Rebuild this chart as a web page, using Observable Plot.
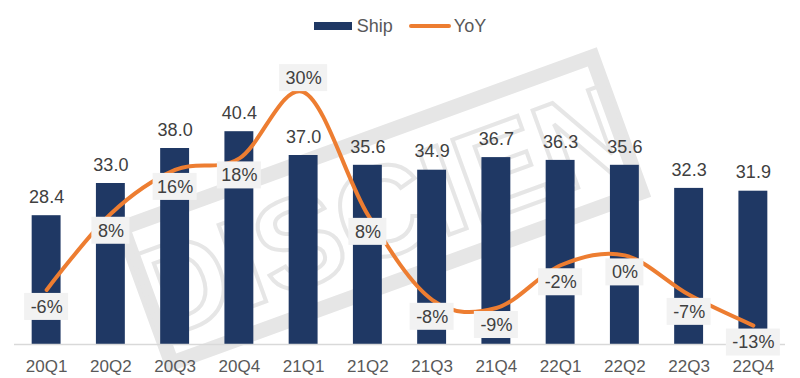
<!DOCTYPE html>
<html>
<head>
<meta charset="utf-8">
<script src="https://cdn.jsdelivr.net/npm/d3@7"></script>
<script src="https://cdn.jsdelivr.net/npm/@observablehq/plot@0.6"></script>
<style>
  html, body { margin: 0; padding: 0; background: #fff; }
  body { width: 800px; height: 378px; overflow: hidden; font-family: "Liberation Sans", Arial, sans-serif; }
  #legend { height: 44px; display: flex; justify-content: center; align-items: center; padding-top: 8px; box-sizing: border-box; font-size: 18px; color: #595959; }
  .item { display: flex; align-items: center; margin: 0 8px; }
  .sw-bar { width: 38px; height: 8px; background: #1F3864; margin-right: 5px; }
  .sw-line { width: 42px; height: 4px; border-radius: 2px; background: #ED7D31; margin-right: 3px; }
</style>
</head>
<body>
<div id="legend">
  <div class="item"><div class="sw-bar"></div><span>Ship</span></div>
  <div class="item"><div class="sw-line"></div><span>YoY</span></div>
</div>
<div id="chart"></div>
<script>
const quarters = ["20Q1","20Q2","20Q3","20Q4","21Q1","21Q2","21Q3","21Q4","22Q1","22Q2","22Q3","22Q4"];
const ship = [28.4, 33.0, 38.0, 40.4, 37.0, 35.6, 34.9, 36.7, 36.3, 35.6, 32.3, 31.9];
const yoy = [-6.1, 7.8, 15.8, 17.9, 30.0, 7.6, -7.9, -9.4, -1.6, 0.2, -7.0, -12.6];
const yoyLabelPos = ["below","below","below","below","above","below","below","below","below","below","below","below"];
const watermark = "DISCIEN";

const navy = "#1F3864";
const orange = "#ED7D31";

// secondary (YoY) axis mapped onto the primary Ship axis
const yoyToShip = d3.scaleLinear().domain([0, 30]).range([22.571, 46.057]);

const data = quarters.map((q, i) => ({
  q, ship: ship[i], yoy: yoy[i], ym: yoyToShip(yoy[i]),
  label: Math.round(yoy[i]) + "%", pos: yoyLabelPos[i]
}));

const boxH = 27 / 7; // box height in primary units (7px per unit)
const charW = {"-": 0.333, "%": 0.889};
const textW = s => [...s].reduce((a, c) => a + (charW[c] ?? 0.556), 0) * 18;

const boxMarks = [];
for (const pos of ["below", "above"]) {
  for (const len of [2, 3, 4]) {
    const subset = data.filter(d => d.pos === pos && d.label.length === len);
    if (!subset.length) continue;
    const w = textW(subset[0].label) + 12;
    const inset = -(w - 28.9) / 2;
    boxMarks.push(Plot.barY(subset, {
      x: "q", y1: d => d.ym - boxH / 2, y2: d => d.ym + boxH / 2,
      fill: "#F2F2F2", insetLeft: inset, insetRight: inset,
      dy: pos === "below" ? 17 : -14
    }));
  }
}

const chart = Plot.plot({
  width: 800,
  height: 334,
  marginTop: 20,
  marginBottom: 34,
  marginLeft: 14,
  marginRight: 15,
  style: { fontFamily: "Liberation Sans, Arial, sans-serif", background: "transparent", overflow: "visible" },
  x: { domain: quarters, paddingInner: 0.55, paddingOuter: 0.275, round: false, label: null },
  y: { domain: [10, 50], axis: null },
  marks: [
    Plot.barY(data, { x: "q", y1: 10, y2: "ship", fill: navy }),
    Plot.ruleY([10], { stroke: "#D9D9D9", strokeWidth: 1.5 }),
    Plot.text(data, { x: "q", y: "ship", text: d => d.ship.toFixed(1), dy: -18.5, fontSize: 18, fill: "#404040" }),
    Plot.line(data, { x: "q", y: "ym", stroke: orange, strokeWidth: 4, curve: "cardinal" }),
    ...boxMarks,
    Plot.text(data.filter(d => d.pos === "below"), { x: "q", y: "ym", text: "label", dy: 17, fontSize: 18, fill: "#404040" }),
    Plot.text(data.filter(d => d.pos === "above"), { x: "q", y: "ym", text: "label", dy: -14, fontSize: 18, fill: "#404040" }),
    Plot.axisX({ tickSize: 0, tickPadding: 15, fontSize: 17, color: "#595959", label: null })
  ]
});

// background watermark (decoration, not data)
const svg = d3.select(chart);
const wm = svg.insert("g", ":first-child")
  .attr("transform", "translate(382,166) rotate(-20)")
  .attr("pointer-events", "none");
wm.append("rect")
  .attr("x", -250).attr("y", -72).attr("width", 500).attr("height", 144)
  .attr("fill", "none").attr("stroke", "#E6E6E6").attr("stroke-width", 15);
wm.append("text")
  .attr("text-anchor", "middle").attr("y", 46)
  .attr("font-family", "Liberation Sans Narrow, Liberation Sans, Arial, sans-serif")
  .attr("font-size", 128).attr("font-weight", "bold")
  .attr("fill", "none").attr("stroke", "#E6E6E6").attr("stroke-width", 4)
  .text(watermark);

document.getElementById("chart").appendChild(chart);
</script>
</body>
</html>
